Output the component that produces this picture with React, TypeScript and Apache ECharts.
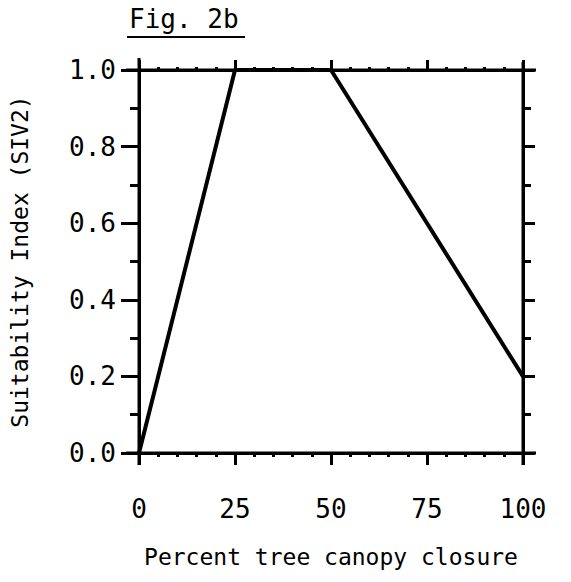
import React, { useEffect, useRef } from "react";
import * as echarts from "echarts";

const xValues = [0, 25, 50, 100];
const yValues = [0, 1.0, 1.0, 0.2];
const xTicks = [0, 25, 50, 75, 100];
const yTicks = [0.0, 0.2, 0.4, 0.6, 0.8, 1.0];

const FONT = "'DejaVu Sans Mono', 'Liberation Mono', monospace";
const G = { left: 139, right: 48, top: 70, bottom: 129 };
const W = 571;
const H = 582;

export default function App() {
  const ref = useRef<HTMLDivElement>(null);
  useEffect(() => {
    if (!ref.current) return;
    const chart = echarts.init(ref.current, undefined, { renderer: "svg" });
    const x0 = G.left;
    const x1 = W - G.right;
    const y0 = G.top;
    const y1 = H - G.bottom;
    const ext = 13;
    const axLine = { color: "#000", width: 3 };
    chart.setOption({
      animation: false,
      backgroundColor: "#fff",
      grid: { left: G.left, right: G.right, top: G.top, bottom: G.bottom },
      xAxis: [
        {
          type: "value",
          position: "bottom",
          min: xTicks[0],
          max: xTicks[xTicks.length - 1],
          interval: 25,
          name: "Percent tree canopy closure",
          nameLocation: "middle",
          nameGap: 92,
          nameTextStyle: { fontFamily: FONT, fontSize: 23, color: "#000" },
          axisLine: { show: true, onZero: false, lineStyle: axLine },
          axisTick: { show: true, inside: false, length: 12, lineStyle: { color: "#000", width: 3 } },
          minorTick: { show: true, splitNumber: 5, length: 4, lineStyle: { color: "#000", width: 3 } },
          axisLabel: { fontFamily: FONT, fontSize: 26, color: "#000", margin: 43 },
          splitLine: { show: false },
          minorSplitLine: { show: false },
        },
        {
          type: "value",
          position: "top",
          min: xTicks[0],
          max: xTicks[xTicks.length - 1],
          interval: 25,
          axisLine: { show: true, onZero: false, lineStyle: axLine },
          axisTick: { show: true, inside: false, length: 10, lineStyle: { color: "#000", width: 3 } },
          minorTick: { show: true, splitNumber: 5, length: 3, lineStyle: { color: "#000", width: 3 } },
          axisLabel: { show: false },
          splitLine: { show: false },
        },
      ],
      yAxis: [
        {
          type: "value",
          position: "left",
          min: yTicks[0],
          max: yTicks[yTicks.length - 1],
          interval: 0.2,
          name: "Suitability Index (SIV2)",
          nameLocation: "middle",
          nameGap: 108,
          nameTextStyle: { fontFamily: FONT, fontSize: 23, color: "#000" },
          axisLine: { show: true, onZero: false, lineStyle: axLine },
          axisTick: { show: true, inside: false, length: 18, lineStyle: { color: "#000", width: 3 } },
          minorTick: { show: true, splitNumber: 2, length: 9, lineStyle: { color: "#000", width: 3 } },
          axisLabel: {
            fontFamily: FONT,
            fontSize: 26,
            color: "#000",
            margin: 23,
            formatter: (v: number) => v.toFixed(1),
          },
          splitLine: { show: false },
          minorSplitLine: { show: false },
        },
        {
          type: "value",
          position: "right",
          min: yTicks[0],
          max: yTicks[yTicks.length - 1],
          interval: 0.2,
          axisLine: { show: true, onZero: false, lineStyle: axLine },
          axisTick: { show: true, inside: false, length: 12, lineStyle: { color: "#000", width: 3 } },
          minorTick: { show: true, splitNumber: 2, length: 8, lineStyle: { color: "#000", width: 3 } },
          axisLabel: { show: false },
          splitLine: { show: false },
        },
      ],
      graphic: [
        { type: "line", shape: { x1: x0 - ext, y1: y1, x2: x1 + ext, y2: y1 }, style: { stroke: "#000", lineWidth: 3 } },
        { type: "line", shape: { x1: x0 - ext, y1: y0, x2: x1 + ext, y2: y0 }, style: { stroke: "#000", lineWidth: 3 } },
        { type: "line", shape: { x1: x0, y1: y0 - 12, x2: x0, y2: y1 + 12 }, style: { stroke: "#000", lineWidth: 3 } },
        { type: "line", shape: { x1: x1, y1: y0 - 8, x2: x1, y2: y1 + 12 }, style: { stroke: "#000", lineWidth: 3 } },
        {
          type: "text",
          left: 129,
          top: 6,
          style: { text: "Fig. 2b", fontFamily: FONT, fontSize: 26, fill: "#000" },
        },
        { type: "line", shape: { x1: 127, y1: 37, x2: 245, y2: 37 }, style: { stroke: "#000", lineWidth: 2 } },
      ],
      series: [
        {
          type: "line",
          xAxisIndex: 0,
          yAxisIndex: 0,
          data: xValues.map((x, i) => [x, yValues[i]]),
          symbol: "none",
          lineStyle: { color: "#000", width: 4 },
          clip: false,
        },
      ],
    });
    return () => chart.dispose();
  }, []);
  return <div ref={ref} style={{ width: W, height: H, position: "absolute", left: 0, top: 0 }} />;
}
